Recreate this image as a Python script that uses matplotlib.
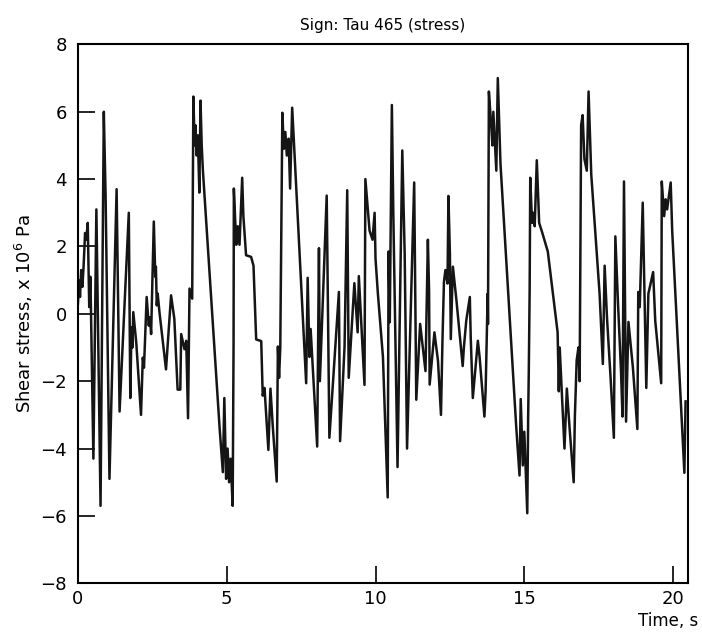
import numpy as np
import matplotlib.pyplot as plt

# turning points of the stress trace
t_s = [0.00, 0.04, 0.07, 0.11, 0.15, 0.19, 0.24, 0.28, 0.33, 0.38, 0.42, 0.52, 0.62, 0.76, 0.87, 0.93,
       1.06, 1.30, 1.34, 1.40, 1.71, 1.76, 1.80, 1.83, 1.86, 1.96, 2.12, 2.18, 2.22, 2.31, 2.38, 2.42,
       2.46, 2.55, 2.60, 2.62, 2.65, 2.68, 2.74, 2.96, 3.13, 3.24, 3.35, 3.44, 3.47, 3.58, 3.64, 3.70,
       3.75, 3.84, 3.88, 3.92, 3.95, 3.99, 4.03, 4.08, 4.12, 4.16, 4.20, 4.76, 4.87, 4.92, 4.98, 5.03,
       5.08, 5.13, 5.20, 5.22, 5.23, 5.24, 5.32, 5.37, 5.43, 5.52, 5.56, 5.65, 5.82, 5.90, 5.99, 6.16,
       6.21, 6.27, 6.40, 6.47, 6.55, 6.68, 6.72, 6.76, 6.80, 6.87, 6.92, 6.97, 7.02, 7.08, 7.13, 7.20,
       7.67, 7.72, 7.78, 7.82, 8.04, 8.10, 8.13, 8.36, 8.45, 8.77, 8.81, 8.96, 9.05, 9.10, 9.29, 9.40,
       9.44, 9.63, 9.66, 9.80, 9.90, 9.97, 10.00, 10.08, 10.25, 10.41, 10.44, 10.48, 10.55, 10.60, 10.74, 10.90,
       10.98, 11.06, 11.30, 11.37, 11.50, 11.68, 11.76, 11.80, 11.82, 11.98, 12.10, 12.20, 12.25, 12.30, 12.35, 12.42,
       12.45, 12.50, 12.53, 12.60, 12.72, 12.93, 12.97, 13.05, 13.17, 13.20, 13.27, 13.44, 13.50, 13.66, 13.70, 13.74,
       13.77, 13.78, 13.81, 13.88, 13.93, 13.96, 14.06, 14.11, 14.20, 14.73, 14.84, 14.88, 14.95, 15.00, 15.10, 15.13,
       15.15, 15.18, 15.20, 15.26, 15.30, 15.35, 15.42, 15.50, 15.60, 15.79, 16.12, 16.16, 16.19, 16.35, 16.43, 16.52,
       16.66, 16.70, 16.76, 16.82, 16.86, 16.91, 16.96, 17.02, 17.10, 17.16, 17.25, 17.53, 17.64, 17.70, 17.78, 17.90,
       18.01, 18.06, 18.15, 18.25, 18.30, 18.35, 18.42, 18.50, 18.65, 18.80, 18.83, 18.88, 18.98, 19.10, 19.17, 19.33,
       19.40, 19.60, 19.62, 19.70, 19.75, 19.80, 19.92, 19.97, 20.38, 20.42]
tau = [0.3, 1.0, 0.5, 1.3, 0.8, 1.4, 2.4, 2.2, 2.7, 0.2, 1.1, -4.3, 3.1, -5.7, 6.0, 3.5,
       -4.9, 3.7, 1.0, -2.9, 3.0, -2.5, -0.4, -1.0, 0.05, -0.85, -3.0, -1.3, -1.6, 0.5, -0.35, -0.1,
       -0.6, 2.74, 1.1, 1.4, 0.25, 0.6, 0.05, -1.65, 0.55, -0.15, -2.25, -2.25, -0.6, -1.05, -0.8, -3.1,
       0.75, 0.45, 6.45, 5.0, 5.6, 4.7, 5.3, 3.6, 6.33, 5.0, 4.25, -3.37, -4.7, -2.5, -4.9, -4.0,
       -5.0, -4.3, -5.7, -2.74, -0.97, 3.72, 2.05, 2.6, 2.05, 4.04, 2.9, 1.74, 1.69, 1.43, -0.76, -0.81,
       -2.43, -2.2, -4.04, -2.22, -3.37, -4.98, -0.97, -1.9, -1.0, 5.97, 4.9, 5.4, 4.7, 5.2, 3.72, 6.12,
       -2.06, 1.07, -1.28, -0.45, -3.94, 1.95, -2.0, 3.51, -3.68, 0.65, -3.78, -0.97, 3.67, -1.9, 0.91, -0.55,
       1.12, -2.11, 4.0, 2.47, 2.2, 3.0, 1.64, 0.6, -1.28, -5.45, 1.85, -0.25, 6.2, 2.9, -4.55, 4.85,
       1.8, -4.0, 3.9, -2.55, -0.3, -1.7, 2.2, 0.7, -2.1, -0.55, -1.4, -3.0, -0.8, 0.95, 1.3, 0.9,
       3.5, 1.8, -0.75, 1.4, 0.4, -1.55, -1.0, -0.2, 0.5, -0.7, -2.5, -0.8, -1.3, -3.05, -2.3, -0.55,
       0.6, -0.3, 6.6, 5.7, 5.0, 6.0, 4.25, 7.0, 4.45, -3.37, -4.8, -2.53, -4.5, -3.5, -5.92, -3.05,
       -1.8, 0.7, 4.04, 2.7, 3.0, 2.6, 4.56, 2.7, 2.42, 1.85, -0.55, -2.3, -1.0, -4.0, -2.22, -3.37,
       -5.0, -3.05, -1.38, -1.0, -2.0, 5.6, 5.9, 4.6, 4.25, 6.6, 4.14, 0.6, -1.49, 1.43, -0.13, -1.9,
       -3.68, 2.3, 0.3, -1.7, -3.05, 3.93, -3.2, -0.24, -1.6, -3.42, 0.65, 0.2, 3.3, -2.2, 0.6, 1.24,
       -0.2, -2.06, 3.93, 2.9, 3.4, 3.1, 3.9, 2.47, -4.72, -2.6]

x_ticks = [0, 5, 10, 15, 20]
y_ticks = [-8, -6, -4, -2, 0, 2, 4, 6, 8]

fig = plt.figure(figsize=(7.02, 6.34), dpi=100)
ax = fig.add_axes([0.111, 0.08, 0.869, 0.85])

ax.plot(t_s, tau, color='#151515', lw=1.8)

ax.set_xlim(0, 20.5)
ax.set_ylim(-8, 8)
ax.set_xticks(x_ticks)
ax.set_yticks(y_ticks)
ax.tick_params(direction='in', length=12, width=1.2, labelsize=13, top=False, right=False)
ax.tick_params(axis='y', pad=8)
ax.tick_params(axis='x', pad=5)
for sp in ax.spines.values():
    sp.set_linewidth(1.5)

ax.set_title('Sign: Tau 465 (stress)', fontsize=11, pad=10)
ax.set_ylabel(r'Shear stress, x 10$^6$ Pa', fontsize=13, labelpad=4)
fig.text(0.995, 0.006, 'Time, s', ha='right', va='bottom', fontsize=12)

fig.savefig('out.png', dpi=100)
